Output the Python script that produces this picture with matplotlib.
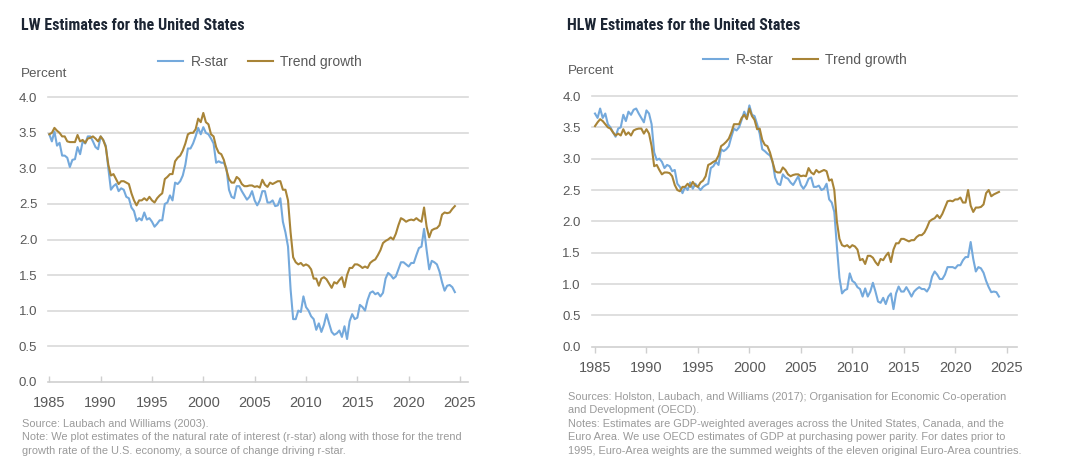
import numpy as np
import matplotlib
matplotlib.use("Agg")
import matplotlib.pyplot as plt

plt.rcParams['font.family'] = ['Liberation Sans', 'DejaVu Sans']

# ---------------- data (quarterly, starting 1985Q1) ----------------
start_year = 1985

lw_rstar = [
    3.48, 3.38, 3.52, 3.32,  3.36, 3.18, 3.18, 3.15,  3.02, 3.12, 3.13, 3.30,
    3.20, 3.38, 3.35, 3.45,  3.45, 3.38, 3.30, 3.27,  3.45, 3.40, 3.32, 3.00,
    2.70, 2.75, 2.78, 2.68,  2.72, 2.70, 2.60, 2.58,  2.45, 2.40, 2.26, 2.30,
    2.27, 2.38, 2.28, 2.30,  2.25, 2.18, 2.22, 2.27,  2.27, 2.50, 2.52, 2.62,
    2.55, 2.80, 2.78, 2.82,  2.90, 3.05, 3.28, 3.28,  3.35, 3.45, 3.57, 3.48,
    3.58, 3.50, 3.48, 3.42,  3.35, 3.08, 3.10, 3.08,  3.08, 3.00, 2.70, 2.60,
    2.58, 2.75, 2.75, 2.68,  2.62, 2.56, 2.60, 2.68,  2.55, 2.48, 2.55, 2.68,
    2.68, 2.52, 2.52, 2.55,  2.47, 2.48, 2.58, 2.25,  2.10, 1.90, 1.30, 0.88,
    0.88, 1.00, 0.98, 1.20,  1.05, 1.00, 0.92, 0.88,  0.73, 0.82, 0.70, 0.80,
    0.95, 0.82, 0.70, 0.66,  0.68, 0.72, 0.63, 0.78,  0.60, 0.85, 0.95, 0.88,
    0.90, 1.08, 1.05, 1.00,  1.15, 1.25, 1.27, 1.23,  1.25, 1.20, 1.25, 1.45,
    1.53, 1.50, 1.45, 1.48,  1.58, 1.68, 1.68, 1.65,  1.62, 1.67, 1.67, 1.78,
    1.88, 1.90, 2.15, 1.85,  1.58, 1.70, 1.68, 1.65,  1.55, 1.40, 1.28, 1.35,
    1.36, 1.33, 1.26,
]

lw_trend = [
    3.48, 3.50, 3.57, 3.53,  3.50, 3.45, 3.45, 3.38,  3.37, 3.37, 3.37, 3.47,
    3.38, 3.40, 3.36, 3.42,  3.43, 3.45, 3.42, 3.38,  3.45, 3.40, 3.30, 3.05,
    2.90, 2.92, 2.85, 2.78,  2.82, 2.82, 2.80, 2.78,  2.65, 2.55, 2.48, 2.55,
    2.55, 2.58, 2.55, 2.60,  2.55, 2.52, 2.58, 2.62,  2.65, 2.85, 2.88, 2.92,
    2.92, 3.10, 3.15, 3.18,  3.25, 3.35, 3.48, 3.50,  3.50, 3.55, 3.70, 3.65,
    3.78, 3.65, 3.62, 3.48,  3.45, 3.30, 3.22, 3.20,  3.12, 2.98, 2.85, 2.80,
    2.80, 2.88, 2.85, 2.78,  2.75, 2.75, 2.76, 2.76,  2.74, 2.75, 2.73, 2.84,
    2.77, 2.74, 2.80, 2.78,  2.80, 2.82, 2.82, 2.70,  2.70, 2.55, 2.10, 1.75,
    1.68, 1.65, 1.67, 1.63,  1.65, 1.63, 1.58, 1.45,  1.45, 1.35, 1.45, 1.47,
    1.44, 1.38, 1.32, 1.40,  1.38, 1.43, 1.47, 1.33,  1.50, 1.60, 1.60, 1.65,
    1.65, 1.63, 1.60, 1.62,  1.60, 1.67, 1.70, 1.72,  1.78, 1.85, 1.95, 1.98,
    2.00, 2.03, 2.00, 2.08,  2.20, 2.30, 2.28, 2.25,  2.27, 2.28, 2.27, 2.30,
    2.27, 2.25, 2.45, 2.18,  2.03, 2.13, 2.15, 2.16,  2.20, 2.35, 2.38, 2.37,
    2.38, 2.43, 2.47,
]

hlw_rstar = [
    3.72, 3.65, 3.80, 3.65,  3.72, 3.55, 3.50, 3.42,  3.35, 3.48, 3.50, 3.70,
    3.60, 3.75, 3.70, 3.78,  3.80, 3.72, 3.65, 3.58,  3.77, 3.72, 3.55, 3.10,
    2.98, 3.00, 2.95, 2.85,  2.90, 2.88, 2.80, 2.82,  2.60, 2.55, 2.45, 2.55,
    2.50, 2.62, 2.52, 2.60,  2.55, 2.50, 2.55, 2.58,  2.60, 2.85, 2.88, 2.95,
    2.90, 3.15, 3.12, 3.15,  3.20, 3.35, 3.48, 3.45,  3.50, 3.62, 3.75, 3.65,
    3.85, 3.70, 3.68, 3.55,  3.40, 3.15, 3.12, 3.08,  3.05, 2.95, 2.70, 2.60,
    2.58, 2.75, 2.70, 2.68,  2.62, 2.58, 2.65, 2.72,  2.58, 2.52, 2.58, 2.68,
    2.70, 2.55, 2.55, 2.57,  2.50, 2.52, 2.60, 2.35,  2.30, 2.15, 1.60, 1.10,
    0.85, 0.90, 0.92, 1.17,  1.05, 1.02, 0.95, 0.92,  0.80, 0.93, 0.80, 0.88,
    1.02, 0.88, 0.72, 0.70,  0.78, 0.68, 0.80, 0.85,  0.60, 0.85, 0.96, 0.88,
    0.88, 0.95, 0.88, 0.80,  0.88, 0.92, 0.95, 0.92,  0.92, 0.88, 0.95, 1.12,
    1.20, 1.15, 1.08, 1.08,  1.15, 1.27, 1.27, 1.27,  1.25, 1.30, 1.30, 1.38,
    1.43, 1.43, 1.67, 1.40,  1.20, 1.27, 1.25, 1.18,  1.05, 0.95, 0.87, 0.88,
    0.87, 0.80,
]

hlw_trend = [
    3.52, 3.58, 3.63, 3.60,  3.55, 3.50, 3.48, 3.42,  3.37, 3.40, 3.37, 3.47,
    3.38, 3.42, 3.37, 3.45,  3.47, 3.48, 3.48, 3.40,  3.47, 3.40, 3.20, 2.88,
    2.90, 2.82, 2.75, 2.78,  2.78, 2.77, 2.72, 2.58,  2.50, 2.48, 2.55, 2.55,
    2.60, 2.55, 2.63, 2.57,  2.55, 2.62, 2.65, 2.72,  2.90, 2.92, 2.95, 2.97,
    3.05, 3.20, 3.23, 3.27,  3.32, 3.42, 3.55, 3.55,  3.55, 3.65, 3.70, 3.63,
    3.80, 3.68, 3.62, 3.47,  3.48, 3.30, 3.22, 3.20,  3.10, 2.95, 2.80, 2.78,
    2.78, 2.86, 2.82, 2.75,  2.72, 2.74, 2.75, 2.75,  2.72, 2.73, 2.72, 2.85,
    2.78, 2.75, 2.82, 2.78,  2.80, 2.82, 2.80, 2.65,  2.67, 2.50, 2.00, 1.72,
    1.62, 1.60, 1.62, 1.58,  1.62, 1.60, 1.55, 1.38,  1.40, 1.32, 1.45, 1.45,
    1.42, 1.35, 1.30, 1.40,  1.38, 1.45, 1.50, 1.35,  1.55, 1.65, 1.65, 1.72,
    1.72, 1.70, 1.68, 1.70,  1.70, 1.75, 1.78, 1.78,  1.82, 1.90, 2.00, 2.03,
    2.05, 2.10, 2.05, 2.12,  2.22, 2.32, 2.33, 2.32,  2.35, 2.35, 2.38, 2.30,
    2.30, 2.50, 2.25, 2.15,  2.22, 2.22, 2.23, 2.27,  2.45, 2.50, 2.40, 2.43,
    2.45, 2.47,
]

x_ticks = [1985, 1990, 1995, 2000, 2005, 2010, 2015, 2020, 2025]
y_ticks = [0.0, 0.5, 1.0, 1.5, 2.0, 2.5, 3.0, 3.5, 4.0]
series_names = ["R-star", "Trend growth"]

titles = ["LW Estimates for the United States", "HLW Estimates for the United States"]
notes_left = ("Source: Laubach and Williams (2003).\n"
              "Note: We plot estimates of the natural rate of interest (r-star) along with those for the trend\n"
              "growth rate of the U.S. economy, a source of change driving r-star.")
notes_right = ("Sources: Holston, Laubach, and Williams (2017); Organisation for Economic Co-operation\n"
               "and Development (OECD).\n"
               "Notes: Estimates are GDP-weighted averages across the United States, Canada, and the\n"
               "Euro Area. We use OECD estimates of GDP at purchasing power parity. For dates prior to\n"
               "1995, Euro-Area weights are the summed weights of the eleven original Euro-Area countries.")

# ---------------- styling ----------------
BLUE = '#74a9dc'
GOLD = '#a88437'
GRID = '#d9d9d9'
TICKC = '#595959'
TITLEC = '#1c2533'
NOTEC = '#9a9a9a'

W, H = 1080, 473
fig = plt.figure(figsize=(W / 100, H / 100), dpi=100)


def fx(px):
    return px / W


def fy(py):
    return 1 - py / H


def make_axes(left_px, right_px, top_px, bottom_px, xlim, tickdir, rstar, trend):
    ax = fig.add_axes([fx(left_px), fy(bottom_px), fx(right_px - left_px),
                       (bottom_px - top_px) / H])
    t_r = start_year + 0.25 * np.arange(len(rstar))
    t_t = start_year + 0.25 * np.arange(len(trend))
    l1, = ax.plot(t_r, rstar, color=BLUE, lw=1.5, solid_joinstyle='round', zorder=3)
    l2, = ax.plot(t_t, trend, color=GOLD, lw=1.5, solid_joinstyle='round', zorder=4)
    ax.set_xlim(*xlim)
    ax.set_ylim(0, 4.0)
    ax.set_xticks(x_ticks)
    ax.set_yticks(y_ticks)
    ax.set_yticklabels([f"{v:.1f}" for v in y_ticks])
    for s in ['top', 'right', 'left']:
        ax.spines[s].set_visible(False)
    ax.spines['bottom'].set_color('#cfcfcf')
    ax.spines['bottom'].set_linewidth(1.2)
    for v in y_ticks[1:]:
        ax.axhline(v, color=GRID, lw=1.2, zorder=1, clip_on=False)
    ax.tick_params(axis='y', length=0, pad=8, labelsize=9.5, labelcolor=TICKC)
    ax.tick_params(axis='x', direction=tickdir, length=4, width=1, color='#cfcfcf',
                   pad=(10 if tickdir == 'in' else 6), labelsize=10.5, labelcolor=TICKC)
    return ax, l1, l2


axL, a1, a2 = make_axes(48.3, 468, 97.3, 381.7,
                        (1985 - 1.0 / 10.27, 2025 + 8 / 10.27), 'in', lw_rstar, lw_trend)
axR, b1, b2 = make_axes(591.7, 1016.7, 96, 346.7,
                        (1985 - 3.3 / 10.29, 2025 + 10 / 10.29), 'out', hlw_rstar, hlw_trend)

# titles
title_font = ['Roboto Condensed', 'Liberation Sans Narrow', 'Liberation Sans']
fig.text(fx(21), fy(25), titles[0], fontsize=11.5, fontweight='bold', color=TITLEC,
         family=title_font, va='center', ha='left')
fig.text(fx(567), fy(25), titles[1], fontsize=11.5, fontweight='bold', color=TITLEC,
         family=title_font, va='center', ha='left')

# Percent labels
fig.text(fx(21), fy(74), "Percent", fontsize=9.6, color=TICKC, va='center', ha='left')
fig.text(fx(568), fy(71), "Percent", fontsize=9.6, color=TICKC, va='center', ha='left')

# legends
for ax, h, cx, cy in [(axL, (a1, a2), 260, 62), (axR, (b1, b2), 805, 60)]:
    ax.legend(h, series_names, loc='center', bbox_to_anchor=(fx(cx), fy(cy)),
              bbox_transform=fig.transFigure, ncol=2, frameon=False,
              fontsize=10, labelcolor=TICKC, handlelength=1.8,
              handletextpad=0.55, columnspacing=1.4, borderpad=0, borderaxespad=0)

# footnotes
fig.text(fx(22), fy(419), notes_left, fontsize=7.9, color=NOTEC, va='top', ha='left',
         linespacing=1.43)
fig.text(fx(568), fy(392), notes_right, fontsize=7.9, color=NOTEC, va='top', ha='left',
         linespacing=1.43)

fig.savefig("out.png", dpi=100)
